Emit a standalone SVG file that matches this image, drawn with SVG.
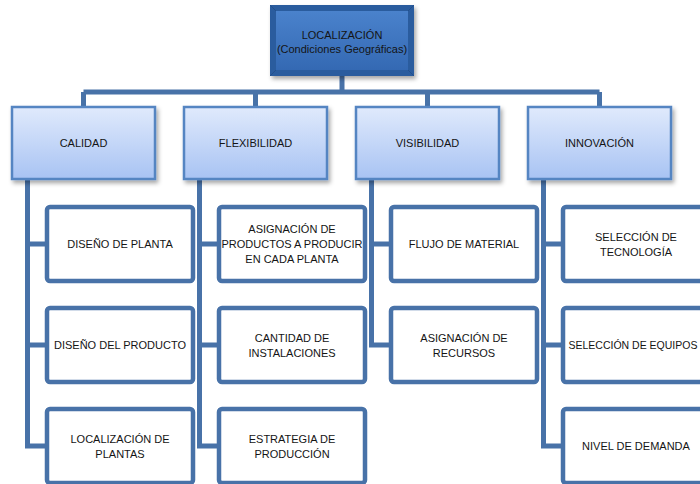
<svg xmlns="http://www.w3.org/2000/svg" width="700" height="484" viewBox="0 0 700 484">
  <style>
    .lbl { font-family: "Liberation Sans", Arial, sans-serif; font-size: 11px; fill: #141414; text-anchor: middle; dominant-baseline: central; }
    .conn { fill: none; stroke: #4872A8; stroke-width: 5; stroke-linejoin: miter; stroke-linecap: butt; }
    .cat { fill: url(#catFill); stroke: #5585C2; stroke-width: 2.5; filter: url(#shadow); }
    .leaf { fill: #ffffff; stroke: #4872A8; stroke-width: 4.5; }
  </style>
  <defs>
    <linearGradient id="catFill" x1="0" y1="0" x2="0" y2="1">
      <stop offset="0" stop-color="#E0EAFC"/>
      <stop offset="1" stop-color="#A8C3F3"/>
    </linearGradient>
    <linearGradient id="rootFill" x1="0" y1="0" x2="0" y2="1">
      <stop offset="0" stop-color="#4A82CC"/>
      <stop offset="1" stop-color="#3469B3"/>
    </linearGradient>
    <filter id="shadow" x="-10%" y="-10%" width="125%" height="135%">
      <feDropShadow dx="2" dy="3" stdDeviation="2" flood-color="#000" flood-opacity="0.35"/>
    </filter>
  </defs>

  <rect width="700" height="484" fill="#ffffff"/>

  <!-- connectors -->
  <g id="connectors">
    <path class="conn" d="M342 76 V92 M83.5 92 H599.5 M83.5 92 V107 M255.5 92 V107 M427.5 92 V107 M599.5 92 V107"/>
    <!-- CALIDAD branch -->
    <path class="conn" d="M27.5 179 V446 H47 M27.5 244 H47 M27.5 345 H47"/>
    <!-- FLEXIBILIDAD branch -->
    <path class="conn" d="M199.5 179 V446 H219 M199.5 244 H219 M199.5 345 H219"/>
    <!-- VISIBILIDAD branch -->
    <path class="conn" d="M371.5 179 V345 H391 M371.5 244 H391"/>
    <!-- INNOVACION branch -->
    <path class="conn" d="M543.5 179 V446 H563 M543.5 244 H563 M543.5 345 H563"/>
  </g>

  <!-- root -->
  <g id="root">
    <rect x="270" y="5" width="144" height="71" fill="#2B5C9E" filter="url(#shadow)"/>
    <rect x="276" y="11" width="132" height="59" fill="url(#rootFill)"/>
    <path d="M270 5 L276 11 M414 5 L408 11 M270 76 L276 70 M414 76 L408 70" stroke="#23508C" stroke-width="1"/>
    <text class="lbl" x="342" y="35">LOCALIZACIÓN</text>
    <text class="lbl" x="342" y="49">(Condiciones Geográficas)</text>
  </g>

  <!-- categories -->
  <g id="calidad">
    <rect class="cat" x="12" y="107" width="143" height="72"/>
    <text class="lbl" x="83.5" y="143">CALIDAD</text>
  </g>
  <g id="flexibilidad">
    <rect class="cat" x="184" y="107" width="143" height="72"/>
    <text class="lbl" x="255.5" y="143">FLEXIBILIDAD</text>
  </g>
  <g id="visibilidad">
    <rect class="cat" x="356" y="107" width="143" height="72"/>
    <text class="lbl" x="427.5" y="143">VISIBILIDAD</text>
  </g>
  <g id="innovacion">
    <rect class="cat" x="528" y="107" width="143" height="72"/>
    <text class="lbl" x="599.5" y="143">INNOVACIÓN</text>
  </g>

  <!-- CALIDAD leaves -->
  <g id="diseno-planta">
    <rect class="leaf" x="47" y="207" width="146" height="74" rx="3"/>
    <text class="lbl" x="120" y="244">DISEÑO DE PLANTA</text>
  </g>
  <g id="diseno-producto">
    <rect class="leaf" x="47" y="308" width="146" height="74" rx="3"/>
    <text class="lbl" x="120" y="345">DISEÑO DEL PRODUCTO</text>
  </g>
  <g id="localizacion-plantas">
    <rect class="leaf" x="47" y="409" width="146" height="74" rx="3"/>
    <text class="lbl" x="120" y="439">LOCALIZACIÓN DE</text>
    <text class="lbl" x="120" y="454">PLANTAS</text>
  </g>

  <!-- FLEXIBILIDAD leaves -->
  <g id="asignacion-productos">
    <rect class="leaf" x="219" y="207" width="146" height="74" rx="3"/>
    <text class="lbl" x="292" y="229">ASIGNACIÓN DE</text>
    <text class="lbl" x="292" y="244">PRODUCTOS A PRODUCIR</text>
    <text class="lbl" x="292" y="259">EN CADA PLANTA</text>
  </g>
  <g id="cantidad-instalaciones">
    <rect class="leaf" x="219" y="308" width="146" height="74" rx="3"/>
    <text class="lbl" x="292" y="338">CANTIDAD DE</text>
    <text class="lbl" x="292" y="353">INSTALACIONES</text>
  </g>
  <g id="estrategia-produccion">
    <rect class="leaf" x="219" y="409" width="146" height="74" rx="3"/>
    <text class="lbl" x="292" y="439">ESTRATEGIA DE</text>
    <text class="lbl" x="292" y="454">PRODUCCIÓN</text>
  </g>

  <!-- VISIBILIDAD leaves -->
  <g id="flujo-material">
    <rect class="leaf" x="391" y="207" width="146" height="74" rx="3"/>
    <text class="lbl" x="464" y="244">FLUJO DE MATERIAL</text>
  </g>
  <g id="asignacion-recursos">
    <rect class="leaf" x="391" y="308" width="146" height="74" rx="3"/>
    <text class="lbl" x="464" y="338">ASIGNACIÓN DE</text>
    <text class="lbl" x="464" y="353">RECURSOS</text>
  </g>

  <!-- INNOVACION leaves -->
  <g id="seleccion-tecnologia">
    <rect class="leaf" x="563" y="207" width="146" height="74" rx="3"/>
    <text class="lbl" x="636" y="237">SELECCIÓN DE</text>
    <text class="lbl" x="636" y="252">TECNOLOGÍA</text>
  </g>
  <g id="seleccion-equipos">
    <rect class="leaf" x="563" y="308" width="146" height="74" rx="3"/>
    <text class="lbl" x="633" y="345" style="font-size:10.5px">SELECCIÓN DE EQUIPOS</text>
  </g>
  <g id="nivel-demanda">
    <rect class="leaf" x="563" y="409" width="146" height="74" rx="3"/>
    <text class="lbl" x="636" y="446">NIVEL DE DEMANDA</text>
  </g>
</svg>
